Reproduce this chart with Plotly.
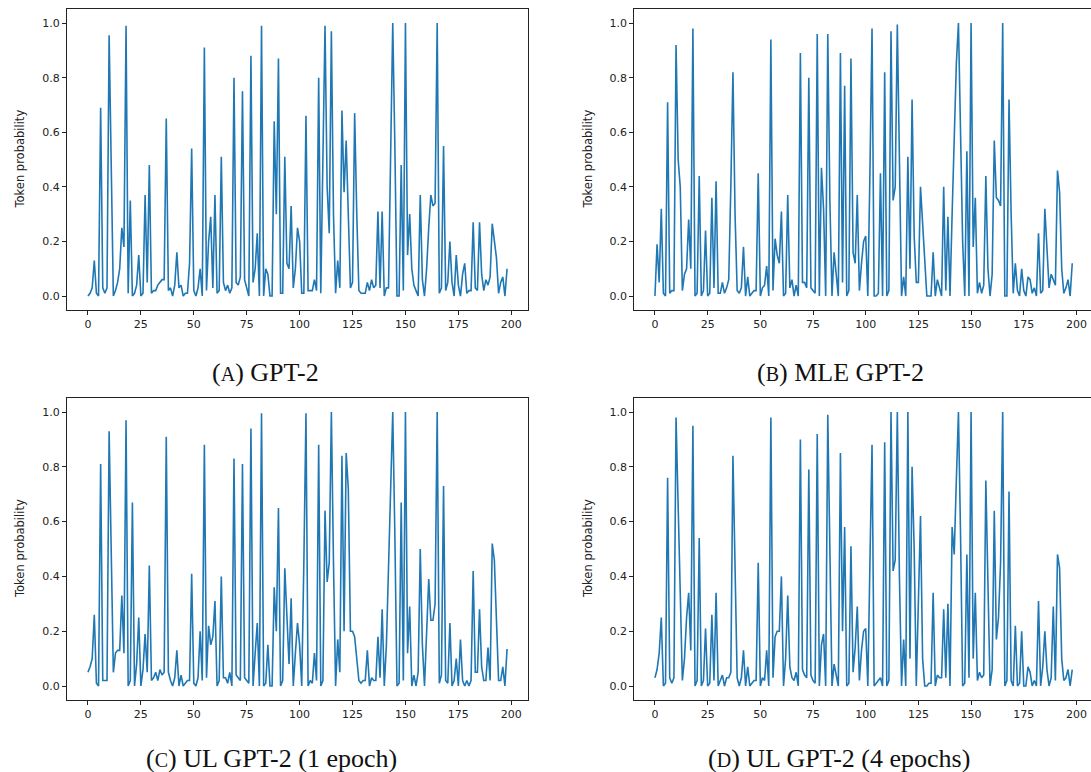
import plotly.graph_objects as go

# The page body margin is removed in the page script, so the figure fills the window.
OFF = 0
W, H = 1091 - OFF, 772 - OFF

steps = list(range(199))

gpt2 = [
    0.0, 0.01, 0.03, 0.13, 0.01, 0.0, 0.69, 0.03, 0.01, 0.03,
    0.955, 0.4, 0.0, 0.02, 0.05, 0.1, 0.25, 0.18, 0.99, 0.01,
    0.35, 0.0, 0.01, 0.04, 0.15, 0.0, 0.01, 0.37, 0.05, 0.48,
    0.01, 0.02, 0.02, 0.04, 0.05, 0.06, 0.06, 0.65, 0.02, 0.03,
    0.0, 0.04, 0.16, 0.03, 0.04, 0.0, 0.01, 0.01, 0.12, 0.54,
    0.02, 0.0, 0.03, 0.1, 0.0, 0.91, 0.02, 0.2, 0.29, 0.03,
    0.37, 0.01, 0.02, 0.51, 0.05, 0.02, 0.04, 0.01, 0.03, 0.80,
    0.05, 0.04, 0.07, 0.75, 0.06, 0.03, 0.0, 0.88, 0.05, 0.1,
    0.23, 0.0, 0.99, 0.0, 0.1, 0.08, 0.0, 0.0, 0.64, 0.3,
    0.87, 0.01, 0.01, 0.51, 0.12, 0.1, 0.33, 0.03, 0.1, 0.25,
    0.2, 0.01, 0.01, 0.66, 0.02, 0.02, 0.02, 0.06, 0.02, 0.80,
    0.01, 0.5, 0.99, 0.4, 0.23, 0.97, 0.3, 0.01, 0.13, 0.03,
    0.68, 0.38, 0.57, 0.3, 0.03, 0.05, 0.67, 0.3, 0.02, 0.01,
    0.01, 0.01, 0.05, 0.02, 0.06, 0.03, 0.04, 0.31, 0.03, 0.31,
    0.0, 0.03, 0.03, 0.5, 1.0, 0.55, 0.0, 0.0, 0.48, 0.02,
    1.0, 0.15, 0.3, 0.1, 0.04, 0.02, 0.0, 0.37, 0.06, 0.0,
    0.1, 0.25, 0.37, 0.33, 0.34, 1.0, 0.01, 0.03, 0.55, 0.02,
    0.05, 0.2, 0.05, 0.0, 0.15, 0.04, 0.0, 0.08, 0.12, 0.01,
    0.02, 0.02, 0.27, 0.03, 0.02, 0.27, 0.08, 0.02, 0.06, 0.04,
    0.07, 0.265, 0.2, 0.14, 0.01, 0.05, 0.07, 0.0, 0.1,
]

mle_gpt2 = [
    0.0, 0.19, 0.05, 0.32, 0.01, 0.0, 0.71, 0.01, 0.02, 0.02,
    0.92, 0.5, 0.4, 0.02, 0.08, 0.1, 0.28, 0.1, 0.98, 0.0,
    0.01, 0.44, 0.0, 0.02, 0.24, 0.0, 0.01, 0.36, 0.03, 0.42,
    0.01, 0.01, 0.05, 0.01, 0.03, 0.06, 0.4, 0.82, 0.3, 0.02,
    0.01, 0.03, 0.18, 0.0, 0.07, 0.0, 0.01, 0.02, 0.02, 0.45,
    0.0, 0.03, 0.04, 0.11, 0.0, 0.94, 0.02, 0.21, 0.15, 0.12,
    0.31, 0.0, 0.01, 0.37, 0.03, 0.06, 0.0, 0.04, 0.0, 0.89,
    0.05, 0.05, 0.03, 0.80, 0.03, 0.02, 0.01, 0.96, 0.0, 0.47,
    0.32, 0.0, 0.96, 0.35, 0.0, 0.16, 0.08, 0.0, 0.89, 0.05,
    0.77, 0.0, 0.02, 0.87, 0.16, 0.12, 0.37, 0.02, 0.12, 0.2,
    0.22, 0.0, 0.45, 0.98, 0.0, 0.0, 0.01, 0.45, 0.0, 0.82,
    0.0, 0.02, 0.97, 0.35, 0.4, 0.995, 0.5, 0.0, 0.07, 0.0,
    0.51, 0.1, 0.72, 0.22, 0.05, 0.05, 0.4, 0.25, 0.12, 0.0,
    0.0, 0.0, 0.16, 0.0, 0.06, 0.03, 0.0, 0.4, 0.02, 0.29,
    0.0, 0.3, 0.6, 0.85, 1.0, 0.6, 0.2, 0.0, 0.53, 0.0,
    1.0, 0.18, 0.36, 0.01, 0.05, 0.01, 0.04, 0.44, 0.1, 0.0,
    0.08, 0.57, 0.36, 0.35, 0.33, 1.0, 0.0, 0.0, 0.72, 0.3,
    0.01, 0.12, 0.02, 0.0, 0.1, 0.02, 0.0, 0.07, 0.06, 0.01,
    0.03, 0.0, 0.23, 0.01, 0.02, 0.32, 0.15, 0.03, 0.08, 0.06,
    0.04, 0.46, 0.38, 0.1, 0.01, 0.03, 0.06, 0.0, 0.12,
]

ul_1epoch = [
    0.05, 0.07, 0.1, 0.26, 0.01, 0.0, 0.81, 0.02, 0.02, 0.02,
    0.93, 0.55, 0.05, 0.12, 0.13, 0.13, 0.33, 0.12, 0.97, 0.0,
    0.02, 0.67, 0.0, 0.08, 0.25, 0.0, 0.06, 0.19, 0.05, 0.44,
    0.02, 0.03, 0.05, 0.02, 0.06, 0.04, 0.05, 0.91, 0.05, 0.02,
    0.0, 0.03, 0.13, 0.0, 0.04, 0.0, 0.01, 0.02, 0.02, 0.41,
    0.01, 0.0, 0.03, 0.2, 0.02, 0.88, 0.03, 0.22, 0.15, 0.18,
    0.31, 0.0, 0.02, 0.4, 0.03, 0.03, 0.01, 0.05, 0.0, 0.83,
    0.04, 0.03, 0.02, 0.81, 0.03, 0.02, 0.01, 0.94, 0.0, 0.12,
    0.23, 0.0, 0.995, 0.0, 0.01, 0.15, 0.0, 0.0, 0.36, 0.2,
    0.65, 0.0, 0.02, 0.43, 0.26, 0.08, 0.32, 0.0, 0.12, 0.23,
    0.15, 0.0, 0.45, 0.995, 0.0, 0.02, 0.01, 0.12, 0.02, 0.88,
    0.0, 0.02, 0.64, 0.38, 0.45, 1.0, 0.45, 0.0, 0.17, 0.05,
    0.84, 0.2, 0.85, 0.72, 0.2, 0.2, 0.18, 0.1, 0.02, 0.01,
    0.02, 0.02, 0.13, 0.0, 0.03, 0.02, 0.02, 0.18, 0.03, 0.28,
    0.0, 0.15, 0.45, 0.75, 1.0, 0.55, 0.0, 0.01, 0.67, 0.02,
    1.0, 0.12, 0.29, 0.0, 0.04, 0.0, 0.05, 0.5, 0.15, 0.0,
    0.18, 0.39, 0.24, 0.24, 0.3, 1.0, 0.01, 0.04, 0.73, 0.02,
    0.01, 0.23, 0.0, 0.02, 0.1, 0.0, 0.17, 0.02, 0.0, 0.02,
    0.0, 0.02, 0.42, 0.05, 0.05, 0.28, 0.07, 0.02, 0.02, 0.14,
    0.02, 0.52, 0.46, 0.2, 0.02, 0.02, 0.07, 0.0, 0.135,
]

ul_4epochs = [
    0.03, 0.06, 0.12, 0.25, 0.0, 0.01, 0.76, 0.03, 0.01, 0.03,
    0.98, 0.65, 0.25, 0.02, 0.1, 0.25, 0.34, 0.13, 0.95, 0.0,
    0.02, 0.54, 0.0, 0.02, 0.21, 0.0, 0.01, 0.26, 0.02, 0.34,
    0.0, 0.02, 0.04, 0.0, 0.03, 0.03, 0.05, 0.84, 0.4, 0.03,
    0.0, 0.03, 0.13, 0.0, 0.07, 0.0, 0.01, 0.02, 0.02, 0.45,
    0.0, 0.03, 0.02, 0.13, 0.0, 0.98, 0.03, 0.18, 0.2, 0.2,
    0.4, 0.0, 0.1, 0.33, 0.07, 0.03, 0.02, 0.05, 0.0, 0.9,
    0.06, 0.04, 0.03, 0.79, 0.04, 0.02, 0.01, 0.92, 0.0, 0.15,
    0.19, 0.0, 0.99, 0.45, 0.0, 0.08, 0.04, 0.0, 0.85, 0.2,
    0.58, 0.0, 0.01, 0.51, 0.05, 0.14, 0.29, 0.02, 0.13, 0.2,
    0.21, 0.0, 0.45, 0.88, 0.0, 0.01, 0.02, 0.03, 0.0, 0.89,
    0.0, 0.02, 1.0, 0.42, 0.46, 1.0, 0.4, 0.0, 0.17, 0.0,
    1.0, 0.1, 0.8, 0.5, 0.0, 0.3, 0.62, 0.1, 0.0, 0.0,
    0.01, 0.01, 0.34, 0.0, 0.04, 0.03, 0.03, 0.28, 0.03, 0.3,
    0.0, 0.58, 0.48, 0.75, 1.0, 0.55, 0.0, 0.01, 0.48, 0.03,
    1.0, 0.1, 0.34, 0.02, 0.05, 0.03, 0.04, 0.75, 0.3, 0.0,
    0.06, 0.64, 0.17, 0.25, 0.45, 1.0, 0.0, 0.02, 0.71, 0.02,
    0.0, 0.22, 0.0, 0.01, 0.2, 0.0, 0.0, 0.07, 0.05, 0.0,
    0.02, 0.0, 0.31, 0.0, 0.07, 0.2, 0.06, 0.0, 0.03, 0.29,
    0.02, 0.48, 0.43, 0.1, 0.02, 0.03, 0.06, 0.0, 0.06,
]

captions = ["GPT-2", "MLE GPT-2", "UL GPT-2 (1 epoch)", "UL GPT-2 (4 epochs)"]
letters = ["A", "B", "C", "D"]
y_title = "Token probability"
x_ticks = [0, 25, 50, 75, 100, 125, 150, 175, 200]
y_ticks = [0.0, 0.2, 0.4, 0.6, 0.8, 1.0]

series = [gpt2, mle_gpt2, ul_1epoch, ul_4epochs]

# panel frames in reference pixels: (left, right, top, bottom), plus x-range max
panels = [
    (67, 528, 9.4, 309.7, 207.9),
    (634.1, 1091, 9.4, 309.7, 206.9),
    (67, 528, 398.3, 699.7, 207.9),
    (634.1, 1091, 398.3, 699.7, 206.9),
]
caption_pos = [(265, 373), (840, 373), (271, 758), (839, 758)]
ytitle_x = [20, 588, 20, 588]


def px(x):
    return (x - OFF) / W


def py(y):
    return 1 - (y - OFF) / H


fig = go.Figure()
tick_font = dict(family="DejaVu Sans", size=11, color="#222222")

for i, (vals, (l, r, t, b, xmax)) in enumerate(zip(series, panels)):
    sfx = "" if i == 0 else str(i + 1)
    fig.add_trace(go.Scatter(
        x=steps, y=vals, mode="lines",
        line=dict(color="#1f77b4", width=1.6),
        xaxis="x" + sfx, yaxis="y" + sfx, showlegend=False,
        hoverinfo="skip",
    ))
    common = dict(showline=True, mirror=True, linecolor="#222222", linewidth=1,
                  ticks="outside", ticklen=4, tickcolor="#222222", tickwidth=1,
                  showgrid=False, zeroline=False, tickfont=tick_font,
                  ticklabeloverflow="allow")
    fig.layout["xaxis" + sfx] = dict(
        domain=[px(l), min(1.0, px(r))], range=[-9.9, xmax], anchor="y" + sfx,
        tickmode="array", tickvals=x_ticks, ticktext=[str(v) for v in x_ticks],
        **common)
    fig.layout["yaxis" + sfx] = dict(
        domain=[py(b), py(t)], range=[-0.05, 1.05], anchor="x" + sfx,
        tickmode="array", tickvals=y_ticks, ticktext=[f"{v:.1f}" for v in y_ticks],
        **common)
    fig.add_annotation(
        text=y_title, textangle=-90, xref="paper", yref="paper",
        x=px(ytitle_x[i]), y=py((t + b) / 2), showarrow=False,
        font=dict(family="DejaVu Sans", size=11.5, color="#222222"),
        xanchor="center", yanchor="middle")
    cx, cy = caption_pos[i]
    fig.add_annotation(
        text=f"(<span style='font-size:20px'>{letters[i]}</span>) {captions[i]}",
        xref="paper", yref="paper", x=px(cx), y=py(cy), showarrow=False,
        font=dict(family="Liberation Serif", size=26, color="#111111"),
        xanchor="center", yanchor="middle")

fig.update_layout(
    width=W, height=H, margin=dict(l=0, r=0, t=0, b=0),
    paper_bgcolor="white", plot_bgcolor="white",
)

fig.write_html(
    "out.html",
    config={"displayModeBar": False, "staticPlot": True},
    post_script="document.body.style.margin='0';"
                "document.documentElement.style.overflow='hidden';"
                "document.body.style.overflow='hidden';",
)
